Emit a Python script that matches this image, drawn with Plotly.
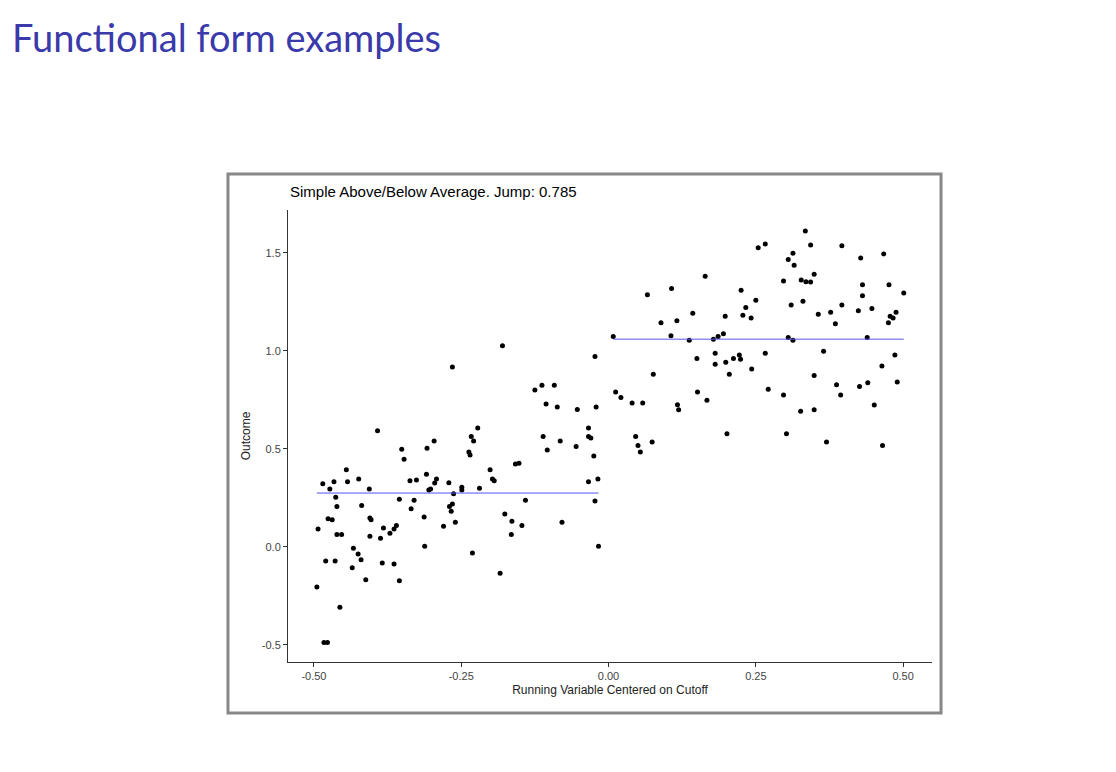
import plotly.graph_objects as go

left_x = [-0.180,-0.265,-0.023,-0.125,-0.113,-0.092,-0.106,-0.087,-0.053,-0.021,-0.392,-0.222,-0.233,-0.229,-0.296,-0.351,-0.308,-0.347,-0.237,-0.235,-0.111,-0.104,-0.082,-0.055,-0.034,-0.034,-0.030,-0.025,-0.445,-0.485,-0.473,-0.466,-0.443,-0.424,-0.406,-0.337,-0.326,-0.309,-0.292,-0.295,-0.305,-0.302,-0.271,-0.263,-0.249,-0.249,-0.219,-0.201,-0.197,-0.194,-0.158,-0.152,-0.034,-0.018,-0.463,-0.461,-0.419,-0.355,-0.330,-0.335,-0.270,-0.265,-0.267,-0.141,-0.023,-0.493,-0.476,-0.469,-0.405,-0.403,-0.461,-0.453,-0.405,-0.382,-0.387,-0.371,-0.364,-0.360,-0.313,-0.280,-0.260,-0.176,-0.164,-0.165,-0.147,-0.079,-0.312,-0.231,-0.017,-0.433,-0.425,-0.420,-0.480,-0.464,-0.435,-0.384,-0.364,-0.412,-0.355,-0.184,-0.495,-0.456,-0.483,-0.477]
left_y = [1.027,0.918,0.971,0.801,0.825,0.825,0.729,0.714,0.701,0.714,0.593,0.607,0.564,0.541,0.541,0.498,0.503,0.447,0.485,0.469,0.564,0.495,0.541,0.512,0.607,0.564,0.556,0.464,0.394,0.323,0.296,0.333,0.333,0.347,0.296,0.338,0.342,0.371,0.347,0.326,0.291,0.296,0.328,0.272,0.304,0.291,0.299,0.394,0.347,0.338,0.423,0.427,0.333,0.347,0.253,0.206,0.211,0.243,0.238,0.195,0.206,0.219,0.182,0.238,0.235,0.092,0.144,0.139,0.148,0.139,0.064,0.064,0.054,0.097,0.044,0.070,0.092,0.110,0.153,0.105,0.126,0.168,0.131,0.064,0.110,0.126,0.003,-0.031,0.003,-0.007,-0.036,-0.065,-0.072,-0.072,-0.106,-0.082,-0.087,-0.167,-0.172,-0.134,-0.204,-0.308,-0.488,-0.488]
right_x = [0.334,0.254,0.266,0.343,0.396,0.467,0.428,0.305,0.313,0.315,0.164,0.297,0.327,0.335,0.343,0.349,0.431,0.476,0.501,0.066,0.107,0.225,0.250,0.233,0.228,0.242,0.198,0.310,0.330,0.356,0.377,0.396,0.385,0.424,0.431,0.447,0.478,0.483,0.488,0.475,0.089,0.116,0.143,0.008,0.106,0.137,0.178,0.186,0.195,0.305,0.313,0.439,0.365,0.486,0.464,0.150,0.181,0.181,0.199,0.212,0.222,0.224,0.205,0.243,0.266,0.349,0.076,0.387,0.394,0.426,0.440,0.490,0.451,0.012,0.021,0.040,0.058,0.117,0.119,0.151,0.167,0.271,0.297,0.326,0.349,0.201,0.302,0.370,0.465,0.046,0.050,0.054,0.074]
right_y = [1.612,1.527,1.546,1.540,1.537,1.495,1.474,1.466,1.498,1.437,1.381,1.357,1.362,1.353,1.352,1.391,1.338,1.338,1.296,1.287,1.319,1.309,1.258,1.221,1.182,1.168,1.177,1.234,1.253,1.187,1.197,1.234,1.139,1.205,1.282,1.216,1.177,1.168,1.197,1.144,1.144,1.154,1.192,1.074,1.078,1.054,1.059,1.073,1.088,1.069,1.054,1.069,0.998,0.979,0.923,0.961,0.988,0.932,0.942,0.961,0.979,0.957,0.881,0.908,0.988,0.875,0.881,0.828,0.775,0.819,0.838,0.841,0.724,0.790,0.762,0.734,0.734,0.726,0.700,0.790,0.748,0.804,0.775,0.692,0.700,0.578,0.578,0.535,0.517,0.564,0.517,0.484,0.535]
left_mean = 0.275
right_mean = 1.060
jump = right_mean - left_mean
x_ticks = [-0.5, -0.25, 0.0, 0.25, 0.5]
x_ticklabels = ["-0.50", "-0.25", "0.00", "0.25", "0.50"]
y_ticks = [-0.5, 0.0, 0.5, 1.0, 1.5]
y_ticklabels = ["-0.5", "0.0", "0.5", "1.0", "1.5"]

fig = go.Figure()
fig.add_trace(go.Scatter(x=left_x + right_x, y=left_y + right_y, mode="markers",
                         marker=dict(color="black", size=5), showlegend=False))
fig.add_trace(go.Scatter(x=[min(left_x), max(left_x)], y=[left_mean, left_mean], mode="lines",
                         line=dict(color="#5555ee", width=1), showlegend=False))
fig.add_trace(go.Scatter(x=[min(right_x), max(right_x)], y=[right_mean, right_mean], mode="lines",
                         line=dict(color="#5555ee", width=1), showlegend=False))

axis_common = dict(showgrid=False, zeroline=False, showline=True, linecolor="#333", linewidth=1,
                   ticks="outside", ticklen=4, tickcolor="#333",
                   tickfont=dict(family="Liberation Sans, Arial", size=11, color="#444"))
fig.update_layout(
    width=1100, height=756,
    margin=dict(l=280, r=176, t=202, b=102),
    paper_bgcolor="white", plot_bgcolor="white",
    xaxis=dict(range=[-0.544, 0.549], tickvals=x_ticks, ticktext=x_ticklabels,
               title=dict(text="Running Variable Centered on Cutoff", standoff=4,
                          font=dict(family="Liberation Sans, Arial", size=12, color="#222")),
               **axis_common),
    yaxis=dict(range=[-0.587, 1.719], tickvals=y_ticks, ticktext=y_ticklabels,
               title=dict(text="Outcome", standoff=8,
                          font=dict(family="Liberation Sans, Arial", size=12, color="#222")),
               **axis_common),
    shapes=[dict(type="rect", xref="paper", yref="paper", x0=-0.0932, x1=1.014, y0=-0.1128, y1=1.0796,
                 line=dict(color="#888", width=3), layer="below")],
    annotations=[
        dict(text=f"Simple Above/Below Average. Jump: {jump:.3f}", xref="paper", yref="paper",
             x=0.0, y=1.04, xanchor="left", yanchor="middle", showarrow=False,
             font=dict(family="Liberation Sans, Arial", size=15, color="black")),
        dict(text="Functional form examples", xref="paper", yref="paper",
             x=-0.432, y=1.383, xanchor="left", yanchor="middle", showarrow=False,
             font=dict(family="Lato, DejaVu Sans", size=38, color="#3a3aaa")),
    ],
)
fig.write_html("out.html")
